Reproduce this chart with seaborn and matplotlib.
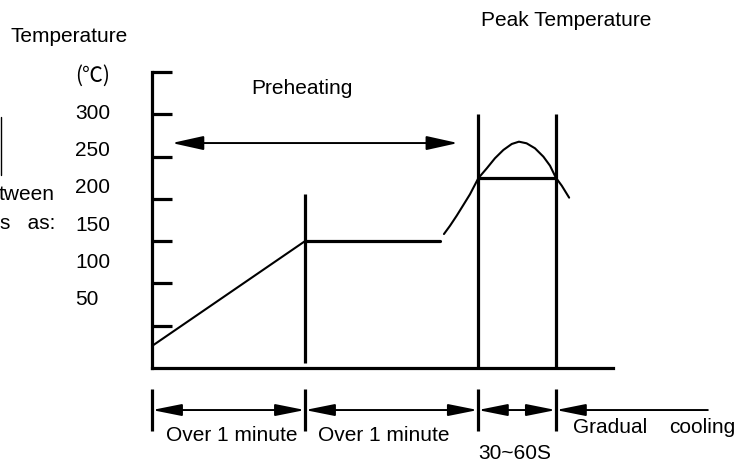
import matplotlib
matplotlib.use("Agg")
import matplotlib.pyplot as plt
from matplotlib.lines import Line2D
from matplotlib.patches import ArrowStyle
import seaborn as sns
import pandas as pd

# ---------------- data (time in s, temperature in degC) ----------------
ramp_time = [0, 60]
ramp_temp = [26, 150]
soak_time = [60, 112.9]
soak_temp = [150, 150]
reflow_time = [114.5, 116.9, 119.5, 122.1, 124.7, 128.0, 131.3, 134.5, 137.8,
               141.1, 143.9, 146.9, 150.2, 153.5, 156.1, 158.4, 160.7, 163.6]
reflow_temp = [158.4, 168.3, 180.1, 192.7, 205.4, 224.5, 236.1, 248.0, 257.8,
               264.9, 267.6, 265.7, 259.8, 249.9, 239.2, 225.0, 215.6, 201.4]
phase_bounds = [0, 60, 127.8, 158.4]
cooling_end = 218
peak_window = [127.8, 158.4]
peak_level = 225
preheat_marker_time = 60
preheat_marker_temp = [6, 206]
preheat_arrow_time = [7.8, 120]
preheat_arrow_temp = 266
axis_ticks = [50, 100, 150, 200, 250, 300, 350]
label_values = [50, 100, 150, 200, 250, 300]
phase_labels = ["Over 1 minute", "Over 1 minute", "30~60S"]

W, H = 740, 461
sns.set_theme(style="white")
plt.rcParams["font.family"] = ["Liberation Sans", "Noto Sans CJK SC", "DejaVu Sans"]
plt.rcParams["text.color"] = "black"
plt.rcParams["axes.labelcolor"] = "black"
plt.rcParams["xtick.color"] = "black"
plt.rcParams["ytick.color"] = "black"
FS = 15

fig = plt.figure(figsize=(W / 100, H / 100), dpi=100)
ax = fig.add_axes([152 / W, (H - 368) / H, 461 / W, 296 / H])
ax.set_xlim(0, 180.8)
ax.set_ylim(0, 350)
for s in ["top", "right"]:
    ax.spines[s].set_visible(False)
for s in ["left", "bottom"]:
    ax.spines[s].set_linewidth(2.3)
    ax.spines[s].set_color("black")
ax.set_xticks([])
ax.set_yticks(axis_ticks)
ax.set_yticklabels([])
ax.tick_params(axis="y", direction="in", length=14.4, width=2.3, color="black", left=True)

lw_thin = 1.5
lw_thick = 2.3
df_ramp = pd.DataFrame({"t": ramp_time, "T": ramp_temp})
df_soak = pd.DataFrame({"t": soak_time, "T": soak_temp})
df_reflow = pd.DataFrame({"t": reflow_time, "T": reflow_temp})
sns.lineplot(data=df_ramp, x="t", y="T", ax=ax, color="black", lw=lw_thin, sort=False)
sns.lineplot(data=df_soak, x="t", y="T", ax=ax, color="black", lw=lw_thick, sort=False)
sns.lineplot(data=df_reflow, x="t", y="T", ax=ax, color="black", lw=lw_thin, sort=False,
             solid_joinstyle="round")
ax.set_xlabel("")
ax.set_ylabel("")

ax.vlines(preheat_marker_time, *preheat_marker_temp, color="black", lw=lw_thick)
ax.vlines(peak_window, 0, 300, color="black", lw=lw_thick, clip_on=False)
ax.hlines(peak_level, *peak_window, color="black", lw=lw_thick)

# preheating arrow
ax.annotate("", xy=(preheat_arrow_time[1], preheat_arrow_temp),
            xytext=(preheat_arrow_time[0], preheat_arrow_temp),
            arrowprops=dict(arrowstyle=ArrowStyle("<|-|>", head_length=19.4, head_width=4.3),
                            mutation_scale=1, color="black", lw=1.4,
                            shrinkA=0, shrinkB=0),
            annotation_clip=False)

# timeline below the axis
bar_lo, bar_hi, arrow_y = -74.5, -24.8, -49.7
ax.vlines(phase_bounds, bar_lo, bar_hi, color="black", lw=lw_thick, clip_on=False)
for a, b in zip(phase_bounds[:-1], phase_bounds[1:]):
    ax.annotate("", xy=(b, arrow_y), xytext=(a, arrow_y),
                arrowprops=dict(arrowstyle=ArrowStyle("<|-|>", head_length=18, head_width=3.6),
                                mutation_scale=1, color="black", lw=1.4,
                                shrinkA=0, shrinkB=0),
                annotation_clip=False)
ax.annotate("", xy=(phase_bounds[-1], arrow_y), xytext=(cooling_end, arrow_y),
            arrowprops=dict(arrowstyle=ArrowStyle("-|>", head_length=18, head_width=3.6),
                            mutation_scale=1, color="black", lw=1.4,
                            shrinkA=0, shrinkB=0),
            annotation_clip=False)


# y tick labels (offset scale as drawn in the reference)
def fwd(T):
    return (T - 38.9) / 0.883


def inv(s):
    return 38.9 + 0.883 * s


sec = ax.secondary_yaxis("left", functions=(fwd, inv))
sec.set_yticks(label_values)
sec.set_yticklabels([str(v) for v in label_values])
sec.spines["left"].set_visible(False)
sec.tick_params(axis="y", length=0, pad=55.4, labelsize=FS, colors="black")
for lab in sec.get_yticklabels():
    lab.set_horizontalalignment("left")


def fx(x):
    return x / W


def fy(y):
    return 1 - y / H


fig.text(fx(69), fy(36), "Temperature", ha="center", va="center", fontsize=FS)
fig.text(fx(93), fy(76), "(℃)", ha="center", va="center", fontsize=FS,
         family=["Noto Sans CJK SC", "DejaVu Sans"])
fig.text(fx(302), fy(88), "Preheating", ha="center", va="center", fontsize=FS)
fig.text(fx(566), fy(21), "Peak Temperature", ha="center", va="center", fontsize=FS)
fig.text(fx(232), fy(435), phase_labels[0], ha="center", va="center", fontsize=FS)
fig.text(fx(384), fy(435), phase_labels[1], ha="center", va="center", fontsize=FS)
fig.text(fx(515), fy(453), phase_labels[2], ha="center", va="center", fontsize=FS)
fig.text(fx(573), fy(427), "Gradual", ha="left", va="center", fontsize=FS)
fig.text(fx(735), fy(427), "cooling", ha="right", va="center", fontsize=FS)

# fragments cut off at the left edge
fig.text(fx(55), fy(194), "tween", ha="right", va="center", fontsize=FS)
fig.text(fx(55), fy(223), "s   as:", ha="right", va="center", fontsize=FS)
fig.add_artist(Line2D([fx(1), fx(1)], [fy(117), fy(175)], color="black", lw=1.0))

fig.savefig("out.png", dpi=100)
